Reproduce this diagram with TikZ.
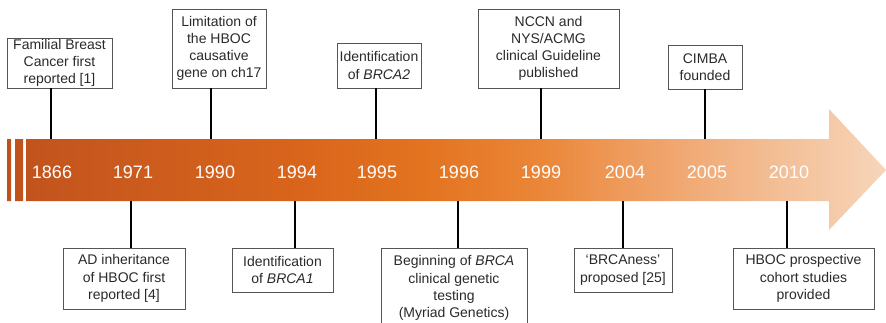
\documentclass[tikz,border=0pt]{standalone}
\usepackage{fontspec}
\setmainfont{Liberation Sans}
\definecolor{c1}{HTML}{BF511B}
\definecolor{c2}{HTML}{C4551D}
\definecolor{c3}{HTML}{D9651C}
\definecolor{c4}{HTML}{E3731F}
\definecolor{c5}{HTML}{EA8638}
\definecolor{c6}{HTML}{EE9B5C}
\definecolor{c7}{HTML}{F1AE7C}
\definecolor{c8}{HTML}{F3C19A}
\definecolor{c9}{HTML}{F7D5BA}
\definecolor{boxgray}{HTML}{555555}
\definecolor{textgray}{HTML}{2A2A2A}
\pgfdeclarehorizontalshading{arrowshade}{100bp}{color(0bp)=(c1); color(25bp)=(c1); color(27.5bp)=(c2); color(41.7bp)=(c3); color(48.5bp)=(c4); color(55.3bp)=(c5); color(60.2bp)=(c6); color(64.8bp)=(c7); color(69.5bp)=(c8); color(75bp)=(c9); color(100bp)=(c9)}
\tikzset{
  box/.style={draw=boxgray, line width=0.8pt, fill=white, align=center, inner sep=0pt,
    font=\fontsize{14}{17.2}\selectfont, text=textgray},
  year/.style={text=white, font=\fontsize{18}{20}\selectfont, inner sep=0pt},
  conn/.style={line width=1.5pt, black}
}
\begin{document}
\begin{tikzpicture}[x=1pt,y=-1pt]
\useasboundingbox (0,0) rectangle (886,322);
\clip (0,0) rectangle (886,322);
% arrow band
\shade[shading=arrowshade]
  (7,139) rectangle (11,201)
  (15,139) rectangle (23,201)
  (26,139) -- (829,139) -- (829,109) -- (886,170) -- (829,230) -- (829,201) -- (26,201) -- cycle;
% years
\node[year] (y1866) at (52,172) {1866};
\node[year] (y1971) at (133,172) {1971};
\node[year] (y1990) at (215,172) {1990};
\node[year] (y1994) at (297,172) {1994};
\node[year] (y1995) at (377,172) {1995};
\node[year] (y1996) at (459,172) {1996};
\node[year] (y1999) at (541,172) {1999};
\node[year] (y2004) at (625,172) {2004};
\node[year] (y2005) at (707,172) {2005};
\node[year] (y2010) at (789,172) {2010};
% band anchor coordinates
\coordinate (t1866) at (51,139);
\coordinate (t1990) at (211,139);
\coordinate (t1995) at (376,139);
\coordinate (t1999) at (541,139);
\coordinate (t2005) at (705,139);
\coordinate (t1971) at (131,201);
\coordinate (t1994) at (295,201);
\coordinate (t1996) at (458,201);
\coordinate (t2004) at (623,201);
\coordinate (t2010) at (787,201);
% top boxes
\node[box, minimum width=105pt, minimum height=50pt] (b1866) at (59.5,63) {Familial Breast\\Cancer first\\reported [1]};
\node[box, minimum width=94pt, minimum height=79pt] (b1990) at (219,48.5) {Limitation of\\the HBOC\\causative\\gene on ch17};
\node[box, minimum width=84pt, minimum height=45pt] (b1995) at (379,65.5) {Identification\\of \textit{BRCA2}};
\node[box, minimum width=141pt, minimum height=79pt] (b1999) at (548.5,48.5) {NCCN and\\NYS/ACMG\\clinical Guideline\\published};
\node[box, minimum width=74pt, minimum height=44pt] (b2005) at (705,67) {CIMBA\\founded};
% bottom boxes
\node[box, minimum width=122pt, minimum height=61pt] (b1971) at (124,278.5) {AD inheritance\\of HBOC first\\reported [4]};
\node[box, minimum width=101pt, minimum height=44pt] (b1994) at (282.5,270) {Identification\\of \textit{BRCA1}};
\node[box, minimum width=146pt, minimum height=80pt] (b1996) at (454,288) {Beginning of \textit{BRCA}\\clinical genetic\\testing\\(Myriad Genetics)};
\node[box, minimum width=98pt, minimum height=44pt] (b2004) at (623,270) {`BRCAness'\\proposed [25]};
\node[box, minimum width=141pt, minimum height=61pt] (b2010) at (803.5,278.5) {HBOC prospective\\cohort studies\\provided};
% connectors
\foreach \n in {1866,1990,1995,1999,2005}{
  \draw[conn] (t\n |- b\n.south) -- (t\n);
}
\foreach \n in {1971,1994,1996,2004,2010}{
  \draw[conn] (t\n) -- (t\n |- b\n.north);
}
\end{tikzpicture}
\end{document}
